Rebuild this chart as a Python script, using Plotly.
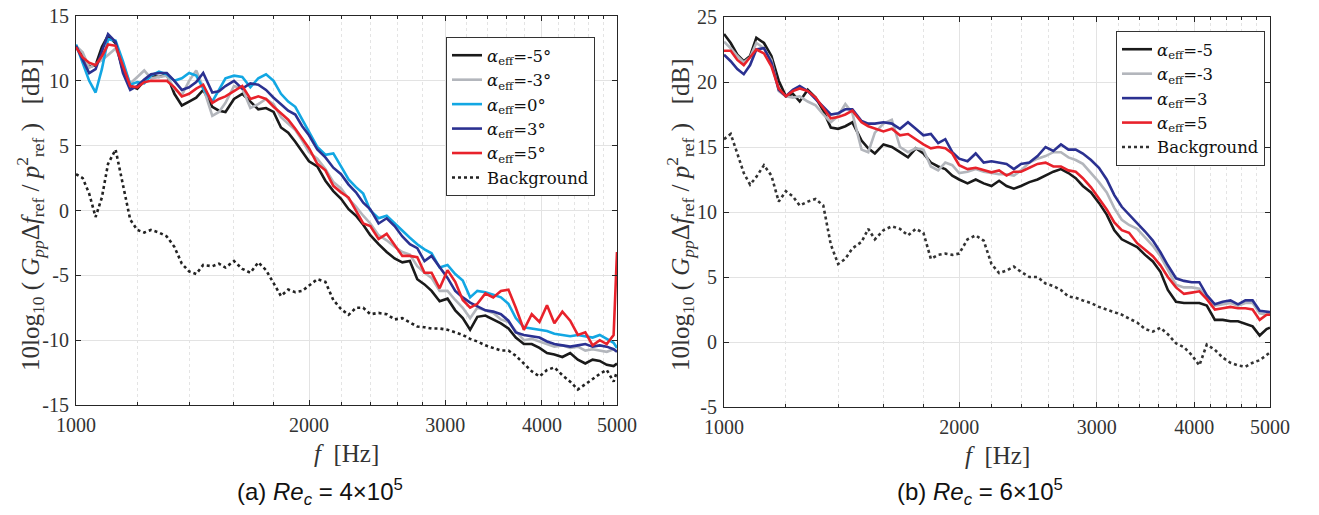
import plotly.graph_objects as go

freq = [1000, 1020, 1040, 1060, 1080, 1100, 1125, 1150, 1175, 1200, 1225, 1250, 1280, 1310, 1340,
        1370, 1400, 1430, 1460, 1500, 1530, 1560, 1600, 1640, 1680, 1720, 1760, 1800, 1840, 1880,
        1920, 1960, 2000, 2050, 2100, 2150, 2200, 2250, 2300, 2350, 2400, 2460, 2520, 2580, 2640,
        2700, 2760, 2820, 2880, 2950, 3020, 3090, 3160, 3230, 3300, 3380, 3460, 3540, 3620, 3700,
        3790, 3880, 3970, 4060, 4150, 4250, 4350, 4450, 4550, 4650, 4750, 4850, 4950, 5000]

# ---- (a) Re_c = 4e5 ----
a_m5 = [12.6, 12.0, 11.1, 11.2, 12.6, 13.5, 12.9, 10.8, 9.6, 9.4, 10.0, 10.4, 10.3, 10.5, 9.0,
        8.1, 8.4, 8.7, 9.3, 8.0, 7.7, 7.6, 8.6, 9.0, 8.4, 7.8, 7.9, 7.6, 6.4, 6.0,
        5.3, 4.5, 3.8, 3.4, 2.3, 1.5, 0.9, 0.1, -0.4, -1.1, -1.9, -2.6, -3.2, -3.7, -4.0,
        -3.9, -5.3, -5.7, -6.2, -7.0, -6.8, -7.7, -8.3, -9.2, -8.2, -8.1, -8.4, -8.7, -9.1, -9.8,
        -10.3, -10.3, -10.6, -11.0, -11.1, -11.3, -11.0, -11.5, -11.8, -11.5, -11.6, -11.9, -12.0, -11.8]
a_m3 = [12.7, 12.2, 11.0, 11.3, 11.6, 12.0, 12.5, 11.2, 9.8, 10.3, 10.8, 10.2, 10.3, 10.4, 9.4,
        8.9, 10.0, 10.8, 9.5, 7.3, 7.6, 8.3, 9.6, 9.4, 7.9, 8.2, 8.6, 8.2, 7.2, 6.7,
        6.2, 5.4, 4.5, 4.0, 3.2, 2.2, 1.7, 0.9, 0.3, -0.4, -1.0, -1.9, -2.3, -2.8, -3.2,
        -3.4, -4.3, -4.8, -5.2, -6.2, -6.2, -6.9, -7.5, -8.3, -7.5, -7.7, -7.9, -8.4, -8.6, -9.3,
        -10.0, -9.9, -10.1, -10.3, -10.5, -10.4, -10.6, -10.5, -10.8, -10.7, -10.8, -10.9, -10.7, -10.9]
a_0 = [12.8, 11.3, 10.0, 9.1, 10.9, 13.2, 13.1, 11.5, 9.7, 9.9, 9.8, 10.4, 10.7, 10.5, 10.0,
       10.2, 10.6, 10.4, 9.4, 8.4, 9.3, 10.2, 10.4, 10.3, 9.5, 10.2, 10.5, 10.0, 9.0, 8.4,
       8.0, 7.0, 6.1, 4.9, 4.3, 4.4, 3.4, 2.4, 1.8, 1.3, 0.0, -0.6, -0.4, -1.0, -1.6,
       -2.1, -2.6, -3.0, -3.3, -4.4, -4.2, -4.9, -5.4, -6.7, -6.2, -6.3, -6.5, -6.7, -7.2, -8.3,
       -9.0, -9.1, -9.2, -9.3, -9.5, -9.6, -9.7, -9.6, -9.7, -9.8, -9.6, -9.9, -10.2, -10.6]
a_p3 = [12.7, 11.6, 10.6, 10.9, 12.2, 13.6, 13.0, 10.6, 9.3, 9.6, 10.1, 10.5, 10.6, 10.6, 10.0,
        9.3, 9.5, 9.9, 10.6, 9.1, 9.2, 9.6, 10.0, 9.4, 9.8, 9.7, 9.3, 8.7, 8.2, 7.7,
        7.4, 6.5, 5.8, 4.7, 4.1, 3.3, 2.8, 2.0, 1.4, 0.6, 0.1, -1.0, -0.6, -1.2, -2.0,
        -2.6, -2.9, -3.9, -3.5, -4.4, -5.2, -6.2, -6.7, -7.1, -7.4, -7.7, -7.8, -8.0, -8.5, -9.4,
        -9.6, -9.7, -9.8, -10.1, -10.3, -10.4, -10.5, -10.4, -10.3, -10.5, -10.4, -10.5, -10.7, -10.9]
a_p5 = [12.6, 11.8, 11.4, 11.2, 11.9, 12.8, 12.7, 11.2, 9.6, 9.5, 9.9, 10.0, 10.0, 10.0, 9.5,
        8.8, 9.0, 9.4, 9.7, 8.3, 8.6, 8.8, 9.2, 9.6, 8.6, 8.8, 8.6, 8.0, 7.5, 7.0,
        6.3, 5.5, 4.8, 3.6, 3.1, 1.9, 1.4, 1.0, 0.0, -1.0, -1.2, -2.2, -1.8, -2.7, -3.5,
        -3.5, -3.6, -4.8, -4.8, -6.0, -4.6, -5.5, -6.9, -7.5, -7.2, -6.4, -6.7, -6.2, -6.1, -7.5,
        -9.2, -8.0, -8.6, -7.3, -8.7, -7.8, -8.5, -9.6, -9.4, -10.4, -10.0, -10.3, -9.6, -3.2]
a_bg = [2.8, 2.5, 1.3, -0.5, 1.0, 3.6, 4.7, 2.0, -0.7, -1.5, -1.7, -1.5, -1.7, -2.0, -2.8,
        -4.1, -4.7, -4.9, -4.2, -4.3, -4.1, -4.4, -3.9, -4.5, -4.8, -4.0, -4.6, -5.6, -6.6, -6.1,
        -6.3, -6.2, -5.8, -5.3, -5.5, -6.9, -7.6, -8.05, -7.5, -7.5, -8.0, -7.9, -8.0, -8.4, -8.3,
        -8.6, -8.95, -9.0, -9.1, -9.1, -9.2, -9.4, -9.6, -9.9, -10.1, -10.4, -10.6, -10.8, -10.8, -11.2,
        -11.8, -12.4, -12.8, -12.3, -12.1, -12.7, -13.2, -13.8, -13.4, -13.0, -12.6, -12.3, -13.2, -12.4]

# ---- (b) Re_c = 6e5 ----
b_m5 = [23.7, 23.0, 22.1, 21.6, 22.0, 23.4, 23.0, 22.0, 20.1, 18.9, 19.1, 18.5, 19.4, 18.8, 17.8,
        16.5, 16.4, 16.6, 16.9, 15.5, 14.9, 14.5, 15.2, 15.0, 14.6, 14.2, 14.9, 14.5, 13.8, 13.5,
        13.3, 12.8, 12.5, 12.2, 12.5, 12.2, 12.0, 12.4, 12.0, 11.8, 12.0, 12.3, 12.5, 12.8, 13.1,
        13.3, 13.0, 12.6, 12.0, 11.5, 10.7, 9.8, 8.6, 7.9, 7.6, 7.3, 6.7, 6.2, 5.4, 4.0,
        3.1, 3.0, 3.0, 3.0, 2.8, 1.7, 1.7, 1.6, 1.6, 1.4, 1.2, 0.5, 1.0, 1.1]
b_m3 = [23.1, 22.6, 22.0, 21.5, 21.9, 23.0, 22.6, 21.7, 19.3, 18.9, 18.8, 18.9, 18.5, 18.2, 17.5,
        16.9, 17.4, 18.3, 17.6, 14.8, 14.6, 16.1, 16.8, 17.1, 15.0, 14.6, 14.9, 14.8, 13.5, 13.2,
        13.8, 13.6, 13.0, 13.1, 13.3, 13.1, 13.0, 12.9, 12.9, 12.8, 13.2, 13.8, 14.1, 14.3, 14.6,
        14.6, 14.2, 14.0, 13.7, 13.0, 12.3, 11.5, 10.3, 9.4, 9.0, 8.7, 8.0, 7.4, 6.6, 5.5,
        4.4, 4.2, 4.2, 4.1, 3.4, 2.8, 2.9, 3.0, 2.8, 3.0, 3.0, 2.2, 2.1, 2.2]
b_p3 = [22.1, 21.6, 21.0, 20.6, 21.3, 22.5, 22.6, 21.5, 19.4, 18.9, 19.4, 19.7, 19.3, 18.7, 18.1,
        17.5, 17.6, 17.9, 17.9, 17.0, 16.8, 16.8, 16.9, 16.8, 16.4, 16.9, 16.4, 15.9, 16.0, 15.3,
        15.6, 14.6, 14.1, 13.9, 14.5, 13.8, 13.9, 13.8, 13.7, 13.3, 13.7, 13.8, 14.3, 15.0, 14.7,
        15.2, 14.8, 14.8, 14.5, 14.0, 13.4, 12.5, 11.3, 10.4, 9.8, 9.2, 8.5, 7.8, 6.9, 5.9,
        4.9, 4.7, 4.6, 4.6, 3.6, 2.9, 3.1, 3.2, 2.9, 3.2, 3.2, 2.4, 2.3, 2.3]
b_p5 = [22.4, 22.4, 21.7, 21.3, 21.9, 22.5, 22.2, 21.2, 19.5, 18.9, 19.3, 19.5, 19.3, 18.8, 18.0,
        17.2, 17.3, 17.5, 17.8, 16.9, 16.6, 16.4, 16.2, 16.4, 15.9, 16.0, 15.6, 15.2, 14.9, 15.0,
        14.9, 14.5, 13.6, 13.3, 13.4, 13.2, 13.05, 13.2, 12.8, 13.1, 13.1, 13.4, 13.7, 13.8, 13.5,
        13.5, 13.2, 13.1, 12.6, 11.9, 11.0, 10.2, 9.2, 8.6, 8.4, 7.6, 7.1, 6.6, 5.9, 5.0,
        4.2, 3.7, 3.8, 3.9, 3.3, 2.5, 2.6, 2.7, 2.6, 2.6, 2.5, 1.7, 2.1, 2.1]
b_bg = [15.6, 16.0, 14.5, 13.0, 12.1, 12.7, 13.6, 12.8, 10.8, 11.6, 11.2, 10.5, 10.8, 11.0, 10.5,
        7.5, 6.0, 6.4, 7.2, 7.7, 8.7, 7.9, 8.6, 8.9, 8.7, 8.2, 8.7, 8.4, 6.4, 6.7,
        6.8, 6.7, 6.8, 7.9, 8.2, 7.8, 6.0, 5.3, 5.5, 5.8, 5.4, 5.0, 5.0, 4.5, 4.3,
        4.0, 3.5, 3.4, 3.2, 3.0, 2.7, 2.5, 2.3, 2.1, 1.8, 1.5, 1.0, 0.8, 1.1, 0.6,
        -0.1, -0.4, -1.0, -1.8, -0.2, -0.6, -1.2, -1.6, -1.8, -1.9, -1.6, -1.4, -1.0, -0.8]

left_labels = ["<i>α</i><sub>eff</sub>=-5°", "<i>α</i><sub>eff</sub>=-3°", "<i>α</i><sub>eff</sub>=0°",
               "<i>α</i><sub>eff</sub>=3°", "<i>α</i><sub>eff</sub>=5°", "Background"]
right_labels = ["<i>α</i><sub>eff</sub>=-5", "<i>α</i><sub>eff</sub>=-3",
                "<i>α</i><sub>eff</sub>=3", "<i>α</i><sub>eff</sub>=5", "Background"]

xticks = [1000, 2000, 3000, 4000, 5000]
minor_x = [1200, 1400, 1600, 1800, 2200, 2400, 2600, 2800, 3200, 3400, 3600, 3800, 4200, 4400, 4600, 4800]
yticks_a = [-15, -10, -5, 0, 5, 10, 15]
yticks_b = [-5, 0, 5, 10, 15, 20, 25]

C_BLACK = "#1a1a1a"
C_GRAY = "#b3b6bc"
C_CYAN = "#12a7e3"
C_BLUE = "#2b3191"
C_RED = "#e8222b"

fig = go.Figure()

left_series = [(a_m5, C_BLACK, "solid"), (a_m3, C_GRAY, "solid"), (a_0, C_CYAN, "solid"),
               (a_p3, C_BLUE, "solid"), (a_p5, C_RED, "solid"), (a_bg, "#222222", "dot")]
for (ys, col, dash), name in zip(left_series, left_labels):
    fig.add_trace(go.Scatter(x=freq, y=ys, mode="lines", name=name,
                             line=dict(color=col, width=2.6, dash=dash),
                             xaxis="x", yaxis="y", legend="legend"))

right_series = [(b_m5, C_BLACK, "solid"), (b_m3, C_GRAY, "solid"), (b_p3, C_BLUE, "solid"),
                (b_p5, C_RED, "solid"), (b_bg, "#333333", "dot")]
for (ys, col, dash), name in zip(right_series, right_labels):
    fig.add_trace(go.Scatter(x=freq, y=ys, mode="lines", name=name,
                             line=dict(color=col, width=2.6, dash=dash),
                             xaxis="x2", yaxis="y2", legend="legend2"))

W, H = 1319, 515
SERIF = "Liberation Serif"
LEGFONT = "DejaVu Serif"
axcol = "#262626"


def xax(domain, anchor):
    return dict(domain=domain, anchor=anchor, type="log", range=[3, 3.69897],
                automargin=False,
                tickmode="array", tickvals=xticks, ticktext=[str(v) for v in xticks],
                ticks="inside", ticklen=5, tickcolor=axcol, ticklabelstandoff=2,
                showline=True, linecolor=axcol, linewidth=1, mirror="ticks",
                showgrid=True, gridcolor="#e3e3e3", gridwidth=1,
                minor=dict(tickmode="array", tickvals=minor_x, showgrid=True,
                           gridcolor="#e4e4e4", griddash="dot", gridwidth=1,
                           ticks="inside", ticklen=3, tickcolor=axcol),
                tickfont=dict(family=SERIF, size=20, color="#333333"),
                zeroline=False)


def yax(domain, anchor, rng, tv):
    return dict(domain=domain, anchor=anchor, range=rng, tickmode="array", tickvals=tv,
                automargin=False,
                ticktext=[str(v) for v in tv], ticks="inside", ticklen=5, tickcolor=axcol,
                ticklabelstandoff=2,
                showline=True, linecolor=axcol, linewidth=1, mirror="ticks",
                showgrid=True, gridcolor="#e3e3e3", gridwidth=1, zeroline=False,
                tickfont=dict(family=SERIF, size=20, color="#333333"))


fig.update_layout(
    width=W, height=H, margin=dict(l=0, r=0, t=0, b=0),
    paper_bgcolor="white", plot_bgcolor="white",
    xaxis=xax([76 / W, 617 / W], "y"),
    yaxis=yax([1 - 405 / H, 1 - 16 / H], "x", [-15, 15], yticks_a),
    xaxis2=xax([724 / W, 1270 / W], "y2"),
    yaxis2=yax([1 - 407 / H, 1 - 17 / H], "x2", [-5, 25], yticks_b),
    legend=dict(x=446 / W, y=1 - 37 / H, xanchor="left", yanchor="top",
                bgcolor="white", bordercolor="#333333", borderwidth=1,
                font=dict(family=LEGFONT, size=16.5, color="#111111"),
                tracegroupgap=0, itemwidth=30),
    legend2=dict(x=1116 / W, y=1 - 31 / H, xanchor="left", yanchor="top",
                 bgcolor="white", bordercolor="#333333", borderwidth=1,
                 font=dict(family=LEGFONT, size=16.5, color="#111111"),
                 tracegroupgap=0, itemwidth=30),
    showlegend=True,
)

ytitle = ("10log<sub>10</sub> ( <i>G<sub>pp</sub></i>Δ<i>f</i><sub>ref</sub> / "
          "<i>p</i><sup>2</sup><sub>ref</sub> )   [dB]")
annos = [
    dict(x=30 / W, y=1 - 215 / H, text=ytitle, textangle=-90),
    dict(x=680 / W, y=1 - 215 / H, text=ytitle, textangle=-90),
    dict(x=346 / W, y=1 - 453 / H, text="<i>f</i>  [Hz]"),
    dict(x=997 / W, y=1 - 455 / H, text="<i>f</i>  [Hz]"),
]
for a in annos:
    fig.add_annotation(xref="paper", yref="paper", showarrow=False,
                       font=dict(family=SERIF, size=25, color="#333333"),
                       xanchor="center", yanchor="middle", **a)

caps = [
    dict(x=320 / W, text="(a) <i>Re<sub>c</sub></i> = 4×10<sup>5</sup>"),
    dict(x=980 / W, text="(b) <i>Re<sub>c</sub></i> = 6×10<sup>5</sup>"),
]
for c in caps:
    fig.add_annotation(xref="paper", yref="paper", y=1 - 492 / H, showarrow=False,
                       font=dict(family="Liberation Sans", size=24, color="#111111"),
                       xanchor="center", yanchor="middle", **c)

fig.write_html("out.html")
